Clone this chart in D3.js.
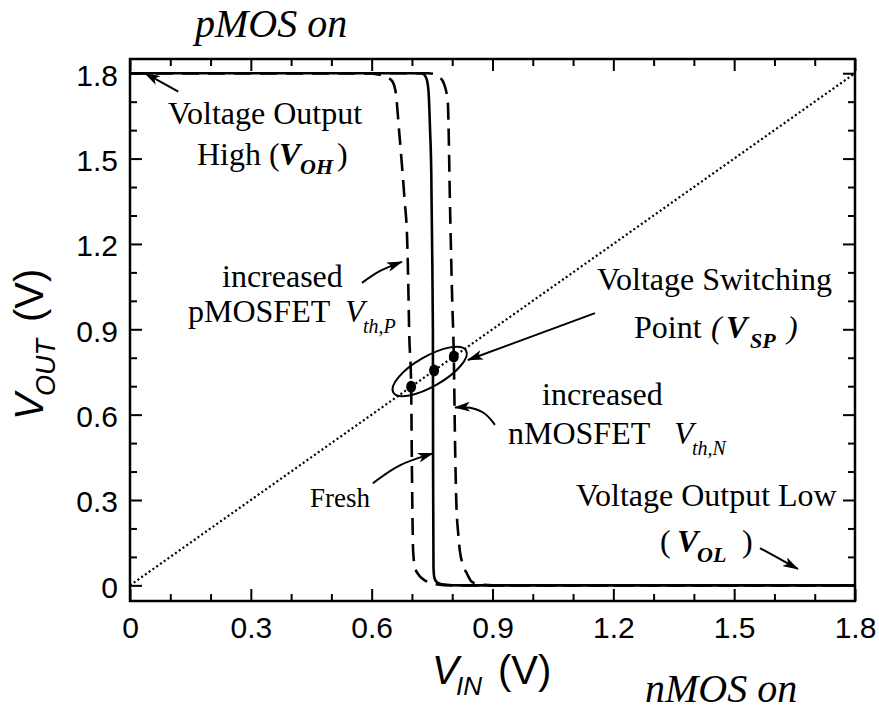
<!DOCTYPE html>
<html>
<head>
<meta charset="utf-8">
<script src="https://cdn.jsdelivr.net/npm/d3@7"></script>
<style>
  html, body { margin: 0; padding: 0; background: #fff; }
  svg { display: block; }
  .serif { font-family: "Liberation Serif", "Times New Roman", serif; }
  .sans { font-family: "Liberation Sans", Arial, sans-serif; }
</style>
</head>
<body>
<svg id="chart" width="879" height="712"></svg>
<script>
// Inverter voltage transfer characteristic: V_IN vs V_OUT (V)
const xTickValues = [0, 0.3, 0.6, 0.9, 1.2, 1.5, 1.8];
const xTickLabels = ["0", "0.3", "0.6", "0.9", "1.2", "1.5", "1.8"];
const yTickValues = [0, 0.3, 0.6, 0.9, 1.2, 1.5, 1.8];
const yTickLabels = ["0", "0.3", "0.6", "0.9", "1.2", "1.5", "1.8"];
const minorTickValues = [0.1, 0.2, 0.4, 0.5, 0.7, 0.8, 1.0, 1.1, 1.3, 1.4, 1.6, 1.7];

// Fresh device (solid)
const freshVin  = [0, 0.70, 0.725, 0.735, 0.741, 0.745, 0.748, 0.750, 0.752, 0.7525, 0.7535, 0.756, 0.763, 0.78, 0.82, 1.8];
const freshVout = [1.8, 1.8, 1.799, 1.785, 1.74, 1.6, 1.45, 1.2, 0.90, 0.40, 0.06, 0.025, 0.01, 0.003, 0, 0];

// Increased pMOSFET Vth (dashed, shifted left)
const pmosVin  = [0, 0.58, 0.62, 0.64, 0.652, 0.66, 0.668, 0.675, 0.682, 0.688, 0.691, 0.693, 0.698, 0.700, 0.703, 0.708, 0.718, 0.735, 0.755, 0.80, 1.8];
const pmosVout = [1.8, 1.8, 1.795, 1.785, 1.77, 1.73, 1.6, 1.48, 1.35, 1.22, 1.05, 0.90, 0.70, 0.40, 0.12, 0.06, 0.035, 0.015, 0.005, 0, 0];

// Increased nMOSFET Vth (dashed, shifted right)
const nmosVin  = [0, 0.74, 0.755, 0.768, 0.779, 0.786, 0.789, 0.795, 0.800, 0.804, 0.807, 0.810, 0.815, 0.819, 0.826, 0.837, 0.849, 0.87, 0.90, 1.8];
const nmosVout = [1.8, 1.8, 1.797, 1.786, 1.765, 1.73, 1.70, 1.30, 1.00, 0.80, 0.50, 0.30, 0.18, 0.12, 0.075, 0.04, 0.012, 0.003, 0, 0];

// Switching points (V_OUT = V_IN)
const vspVin  = [0.698, 0.755, 0.804];
const vspVout = [0.698, 0.755, 0.804];

const svg = d3.select("#chart");
const plotLeft = 130, plotRight = 855, plotTop = 59, plotBottom = 601;

const x = d3.scaleLinear().domain([0, 1.8]).range([plotLeft, plotRight]);
const y = d3.scaleLinear().domain([-0.055, 1.85]).range([plotBottom, plotTop]);

// Arrow marker
const defs = svg.append("defs");
defs.append("marker")
  .attr("id", "arrow")
  .attr("viewBox", "0 -5 16 10")
  .attr("refX", 15).attr("refY", 0)
  .attr("markerWidth", 16).attr("markerHeight", 10)
  .attr("markerUnits", "userSpaceOnUse")
  .attr("orient", "auto")
  .append("path")
  .attr("d", "M0,-5L16,0L0,5L4,0Z")
  .attr("fill", "#000");

// Axes: ticks point inward on all four sides
function styleAxis(g, fontSize) {
  g.select(".domain").remove();
  g.selectAll(".tick line").attr("stroke", "#000").attr("stroke-width", 2);
  g.selectAll(".tick text")
    .attr("class", "sans")
    .attr("fill", "#000")
    .style("font-size", fontSize + "px");
}

const gx = svg.append("g").attr("transform", `translate(0,${plotBottom})`)
  .call(d3.axisBottom(x).tickValues(xTickValues)
    .tickFormat((d, i) => xTickLabels[i]).tickSizeInner(-12).tickSizeOuter(0).tickPadding(16));
styleAxis(gx, 30);
const gxm = svg.append("g").attr("transform", `translate(0,${plotBottom})`)
  .call(d3.axisBottom(x).tickValues(minorTickValues).tickFormat("").tickSizeInner(-7).tickSizeOuter(0));
styleAxis(gxm, 30);

const gy = svg.append("g").attr("transform", `translate(${plotLeft},0)`)
  .call(d3.axisLeft(y).tickValues(yTickValues)
    .tickFormat((d, i) => yTickLabels[i]).tickSizeInner(-12).tickSizeOuter(0).tickPadding(12));
styleAxis(gy, 30);
gy.selectAll(".tick text").attr("dy", "0.4em");
const gym = svg.append("g").attr("transform", `translate(${plotLeft},0)`)
  .call(d3.axisLeft(y).tickValues(minorTickValues).tickFormat("").tickSizeInner(-7).tickSizeOuter(0));
styleAxis(gym, 30);

const gt = svg.append("g").attr("transform", `translate(0,${plotTop})`)
  .call(d3.axisTop(x).tickValues(xTickValues).tickFormat("").tickSizeInner(-12).tickSizeOuter(0));
styleAxis(gt, 30);
const gtm = svg.append("g").attr("transform", `translate(0,${plotTop})`)
  .call(d3.axisTop(x).tickValues(minorTickValues).tickFormat("").tickSizeInner(-7).tickSizeOuter(0));
styleAxis(gtm, 30);

const gr = svg.append("g").attr("transform", `translate(${plotRight},0)`)
  .call(d3.axisRight(y).tickValues(yTickValues).tickFormat("").tickSizeInner(-12).tickSizeOuter(0));
styleAxis(gr, 30);
const grm = svg.append("g").attr("transform", `translate(${plotRight},0)`)
  .call(d3.axisRight(y).tickValues(minorTickValues).tickFormat("").tickSizeInner(-7).tickSizeOuter(0));
styleAxis(grm, 30);

// Frame
svg.append("rect")
  .attr("x", plotLeft).attr("y", plotTop)
  .attr("width", plotRight - plotLeft).attr("height", plotBottom - plotTop)
  .attr("fill", "none").attr("stroke", "#000").attr("stroke-width", 2.5);

// V_OUT = V_IN reference line (dotted)
svg.append("line")
  .attr("x1", x(0)).attr("y1", y(0)).attr("x2", x(1.8)).attr("y2", y(1.8))
  .attr("stroke", "#000").attr("stroke-width", 2.2)
  .attr("stroke-dasharray", "2,2.6");

const line = d3.line()
  .x(d => x(d[0])).y(d => y(d[1]))
  .curve(d3.curveMonotoneX);
const zip = (a, b) => a.map((v, i) => [v, b[i]]);

// Degraded curves (dashed)
[zip(pmosVin, pmosVout), zip(nmosVin, nmosVout)].forEach(pts => {
  svg.append("path").attr("d", line(pts))
    .attr("fill", "none").attr("stroke", "#000")
    .attr("stroke-width", 2.6).attr("stroke-dasharray", "17,9");
});

// Fresh curve (solid)
svg.append("path").attr("d", line(zip(freshVin, freshVout)))
  .attr("fill", "none").attr("stroke", "#000").attr("stroke-width", 2.6);

// Switching points
svg.selectAll("ellipse.vsp").data(zip(vspVin, vspVout)).enter()
  .append("ellipse").attr("class", "vsp")
  .attr("cx", d => x(d[0])).attr("cy", d => y(d[1]))
  .attr("rx", 5).attr("ry", 6).attr("fill", "#000");

// Ellipse around the switching points
svg.append("ellipse")
  .attr("transform", `translate(${x(0.744)},${y(0.752)}) rotate(-30)`)
  .attr("rx", 42).attr("ry", 15)
  .attr("fill", "none").attr("stroke", "#000").attr("stroke-width", 2);

// Annotation arrows (data coordinates)
const arrows = [
  { pts: [[0.120, 1.735], [0.037, 1.800]], curve: d3.curveLinear },
  { pts: [[0.576, 1.063], [0.621, 1.105], [0.675, 1.137]], curve: d3.curveNatural },
  { pts: [[1.1545, 0.957], [0.839, 0.792]], curve: d3.curveLinear },
  { pts: [[0.906, 0.564], [0.881, 0.603], [0.844, 0.624], [0.807, 0.625]], curve: d3.curveNatural },
  { pts: [[0.603, 0.359], [0.670, 0.422], [0.752, 0.464]], curve: d3.curveNatural },
  { pts: [[1.564, 0.131], [1.658, 0.0575]], curve: d3.curveLinear }
];
arrows.forEach(a => {
  const l = d3.line().x(d => x(d[0])).y(d => y(d[1])).curve(a.curve);
  svg.append("path").attr("d", l(a.pts))
    .attr("fill", "none").attr("stroke", "#000").attr("stroke-width", 2)
    .attr("marker-end", "url(#arrow)");
});

// Text helper: list of runs {t, x, y, size, style, weight}
function label(runs, cls) {
  const t = svg.append("text").attr("class", cls).attr("fill", "#000");
  runs.forEach(r => {
    t.append("tspan")
      .attr("x", r.x).attr("y", r.y)
      .style("font-size", r.size + "px")
      .style("font-style", r.style || "normal")
      .style("font-weight", r.weight || "normal")
      .text(r.t);
  });
  return t;
}

// Region labels
label([{ t: "pMOS on", x: 195, y: 37, size: 40, style: "italic" }], "serif");
label([{ t: "nMOS on", x: 645, y: 702, size: 40, style: "italic" }], "serif");

// V_OH
label([{ t: "Voltage Output", x: 168, y: 124, size: 32 }], "serif");
label([
  { t: "High (", x: 197, y: 165, size: 32 },
  { t: "V", x: 279, y: 165, size: 32, style: "italic", weight: "bold" },
  { t: "OH", x: 300, y: 174, size: 22, style: "italic", weight: "bold" },
  { t: ")", x: 337, y: 165, size: 32 }
], "serif");

// pMOSFET
label([{ t: "increased", x: 222, y: 287, size: 32 }], "serif");
label([
  { t: "pMOSFET", x: 188, y: 322, size: 32 },
  { t: "V", x: 345, y: 322, size: 32, style: "italic" },
  { t: "th,P", x: 363, y: 333, size: 20, style: "italic" }
], "serif");

// Switching point
label([{ t: "Voltage Switching", x: 597, y: 290, size: 32 }], "serif");
label([
  { t: "Point", x: 634, y: 338, size: 32 },
  { t: "(", x: 711, y: 338, size: 32, style: "italic" },
  { t: "V", x: 726, y: 338, size: 32, style: "italic", weight: "bold" },
  { t: "SP", x: 750, y: 348, size: 22, style: "italic", weight: "bold" },
  { t: ")", x: 787, y: 338, size: 32, style: "italic" }
], "serif");

// nMOSFET
label([{ t: "increased", x: 542, y: 405, size: 32 }], "serif");
label([
  { t: "nMOSFET", x: 508, y: 444, size: 32 },
  { t: "V", x: 674, y: 444, size: 32, style: "italic" },
  { t: "th,N", x: 692, y: 455, size: 20, style: "italic" }
], "serif");

// Fresh
label([{ t: "Fresh", x: 310, y: 507, size: 27 }], "serif");

// V_OL
label([{ t: "Voltage Output Low", x: 576, y: 506, size: 32 }], "serif");
label([
  { t: "(", x: 660, y: 552, size: 32 },
  { t: "V", x: 677, y: 552, size: 32, style: "italic", weight: "bold" },
  { t: "OL", x: 697, y: 562, size: 22, style: "italic", weight: "bold" },
  { t: ")", x: 742, y: 552, size: 32 }
], "serif");

// Axis titles
label([
  { t: "V", x: 432, y: 684, size: 40, style: "italic" },
  { t: "IN", x: 456, y: 695, size: 26, style: "italic" },
  { t: "(V)", x: 498, y: 684, size: 40 }
], "sans");

const yt = svg.append("g").attr("transform", "translate(43,420) rotate(-90)");
const ytText = yt.append("text").attr("class", "sans").attr("fill", "#000");
[
  { t: "V", x: 0, y: 0, size: 40, style: "italic" },
  { t: "OUT", x: 24, y: 12, size: 27, style: "italic" },
  { t: "(V)", x: 98, y: 0, size: 40 }
].forEach(r => {
  ytText.append("tspan").attr("x", r.x).attr("y", r.y)
    .style("font-size", r.size + "px").style("font-style", r.style || "normal").text(r.t);
});
</script>
</body>
</html>
